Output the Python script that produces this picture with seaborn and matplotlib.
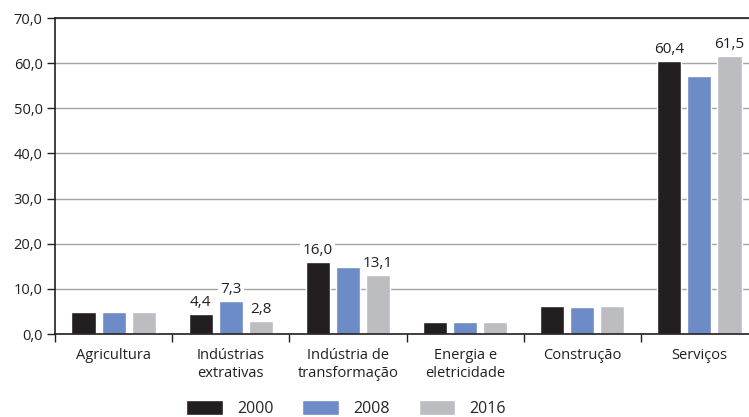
import pandas as pd
import matplotlib
matplotlib.use('Agg')
from matplotlib import pyplot as plt
import seaborn as sns

setores = ['Agricultura', 'Indústrias\nextrativas', 'Indústria de\ntransformação',
           'Energia e\neletricidade', 'Construção', 'Serviços']
anos = ['2000', '2008', '2016']
v2000 = [4.9, 4.4, 16.0, 2.6, 6.3, 60.4]
v2008 = [4.9, 7.3, 14.9, 2.6, 5.9, 57.1]
v2016 = [4.9, 2.8, 13.1, 2.6, 6.3, 61.5]
cores = ['#231f20', '#6d8bc7', '#bcbdc1']
# which bars get a value label: (setor index, ano index)
rotulos = [(1, 0), (1, 1), (1, 2), (2, 0), (2, 2), (5, 0), (5, 2)]

df = pd.DataFrame({
    'setor': setores * 3,
    'ano': [a for a in anos for _ in setores],
    'valor': v2000 + v2008 + v2016,
})

sns.set_style('white')
plt.rcParams['font.family'] = ['Open Sans', 'DejaVu Sans']
fs = 10.5

fig = plt.figure(figsize=(7.49, 4.17), dpi=100)
ax = fig.add_axes([55 / 749, 83 / 417, 703 / 749, 316 / 417])
sns.barplot(data=df, x='setor', y='valor', hue='ano', palette=cores,
            width=0.77, gap=0.2, saturation=1, ax=ax, zorder=3)

ax.set_xlim(-0.5, 5.5)
ax.set_ylim(0, 70)
ax.set_yticks(range(0, 71, 10))
ax.set_yticklabels([f'{v},0' for v in range(0, 71, 10)], fontsize=fs, color='#231f20')
ax.yaxis.grid(True, color='#a3a3a3', lw=1, zorder=0)
ax.set_axisbelow(True)
ax.tick_params(axis='y', length=6, width=1, color='#231f20', left=True, pad=3)
ax.tick_params(axis='x', length=0, pad=10, labelsize=fs, labelcolor='#231f20')
ax.set_xticks(range(6))
ax.set_xticklabels(setores, linespacing=1.3)
ax.set_xticks([i + 0.5 for i in range(-1, 5)], minor=True)
ax.tick_params(axis='x', which='minor', length=6, width=1, color='#231f20', bottom=True)
ax.set_xlabel('')
ax.set_ylabel('')
for s in ['left', 'bottom', 'top']:
    ax.spines[s].set_color('#231f20')
    ax.spines[s].set_linewidth(1.2)
    ax.spines[s].set_zorder(5)
ax.spines['right'].set_visible(False)

valores = [v2000, v2008, v2016]
for (i, j) in rotulos:
    barra = ax.containers[j][i]
    x = barra.get_x() + barra.get_width() / 2
    v = valores[j][i]
    ax.annotate(f'{v:.1f}'.replace('.', ','), (x, v), xytext=(0, 3),
                textcoords='offset points', ha='center', va='bottom',
                fontsize=11, color='#231f20', zorder=4,
                bbox=dict(boxstyle='square,pad=0.15', fc='white', ec='none'))

handles, labels = ax.get_legend_handles_labels()
ax.get_legend().remove()
fig.legend(handles, labels, loc='lower center', bbox_to_anchor=(0.462, -0.035),
           ncol=3, frameon=False, fontsize=11.5, handlelength=2.3, handleheight=1.1,
           columnspacing=1.8, handletextpad=0.9)

fig.savefig('out.png', dpi=100)
